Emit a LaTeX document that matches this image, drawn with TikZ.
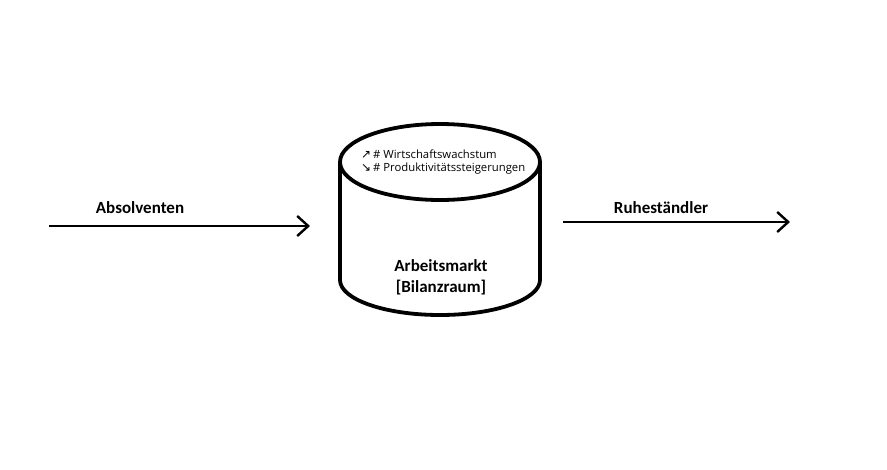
\documentclass[tikz,border=0pt]{standalone}
\usepackage{fontspec}
\setmainfont{Carlito}
\newfontfamily\symfont{DejaVu Sans}
\newfontfamily\smallfont{Open Sans}
\usetikzlibrary{arrows.meta}
\begin{document}
\begin{tikzpicture}[x=1pt,y=-1pt,
  flow/.style={line width=2.6pt,-{Straight Barb[length=11pt,width=20pt,line width=2.4pt]}},
  lbl/.style={font=\bfseries\fontsize{17}{19}\selectfont,inner sep=0pt},
  small/.style={font=\smallfont\fontsize{11.3}{12}\selectfont,inner sep=0pt,anchor=west}]
\useasboundingbox (0,0) rectangle (887,469);
% cylinder
\draw[line width=3.8pt] (440,162) ellipse [x radius=100, y radius=38];
\draw[line width=3.8pt] (340,162) -- (340,280) arc[start angle=180,end angle=0,x radius=100,y radius=35] -- (540,162);
\node[small] (w) at (361,154) {{\symfont\fontsize{12}{10}\selectfont ↗}\,\# Wirtschaftswachstum};
\node[small] (p) at (361,169) {{\symfont\fontsize{12}{10}\selectfont ↘}\,\# Produktivitätssteigerungen};
\node[lbl,align=center] (am) at (441,277) {Arbeitsmarkt\\[2pt][Bilanzraum]};
% arrows
\coordinate (a1) at (49,226);
\coordinate (a2) at (310,226);
\coordinate (r1) at (563,222);
\coordinate (r2) at (790,222);
\draw[flow] (a1) -- (a2);
\draw[flow] (r1) -- (r2);
\node[lbl] (abs) at (140,208) {Absolventen};
\node[lbl] (ruh) at (661,208) {Ruheständler};
\end{tikzpicture}
\end{document}
